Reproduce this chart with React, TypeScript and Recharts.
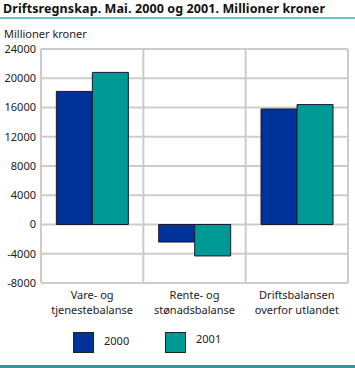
import React from 'react';
import { BarChart, Bar, XAxis, YAxis, CartesianGrid } from 'recharts';

// Kategorier og verdier (millioner kroner)
const CATEGORIES = ['Vare- og\ntjenestebalanse', 'Rente- og\nstønadsbalanse', 'Driftsbalansen\noverfor utlandet'];
const VALUES_2000 = [18200, -2400, 15800];
const VALUES_2001 = [20800, -4300, 16400];
const Y_TICKS = [-8000, -4000, 0, 4000, 8000, 12000, 16000, 20000, 24000];

const COLOR_2000 = '#00339a';
const COLOR_2001 = '#009a96';
const GRID = '#cccccc';
const FONT = '"Noto Sans", "Open Sans", sans-serif';

const data = CATEGORIES.map((name, i) => ({ name, v2000: VALUES_2000[i], v2001: VALUES_2001[i] }));

const CategoryTick = ({ x, y, payload }: any) => {
  const lines = String(payload.value).split('\n');
  return (
    <text x={x} y={y} textAnchor="middle" fontSize={11} fill="#222" fontFamily={FONT}>
      {lines.map((l, i) => (
        <tspan key={i} x={x} dy={i === 0 ? 8 : 15}>{l}</tspan>
      ))}
    </text>
  );
};

const LegendBox = ({ color, label, left, textTop }: { color: string; label: string; left: number; textTop: number }) => (
  <div style={{ position: 'absolute', left, top: 332, display: 'flex', alignItems: 'flex-start' }}>
    <div style={{ width: 19, height: 19, background: color, border: '1px solid #222' }} />
    <span style={{ marginLeft: 10, fontSize: 11, fontFamily: FONT, color: '#222', lineHeight: '14px', marginTop: textTop }}>{label}</span>
  </div>
);

export default function App() {
  return (
    <div style={{ position: 'absolute', left: 0, top: 0, width: 355, height: 368, background: '#fff', overflow: 'hidden' }}>
      <div style={{ position: 'absolute', left: 3, top: 0, fontSize: 12.5, fontWeight: 'bold', fontFamily: FONT, color: '#111', whiteSpace: 'nowrap', letterSpacing: 0.1 }}>
        Driftsregnskap. Mai. 2000 og 2001. Millioner kroner
      </div>
      <div style={{ position: 'absolute', left: 0, top: 17, width: 355, height: 2, background: '#66c6c6' }} />
      <div style={{ position: 'absolute', left: 4, top: 26, fontSize: 11, fontFamily: FONT, color: '#222' }}>Millioner kroner</div>
      <BarChart
        width={355}
        height={368}
        data={data}
        margin={{ top: 49, right: 7, left: 0, bottom: 0 }}
        barCategoryGap="15%"
        barGap={0}
      >
        <CartesianGrid
          stroke={GRID}
          strokeWidth={2}
          verticalCoordinatesGenerator={({ offset }: any) => [0, 1, 2, 3].map(i => offset.left + (offset.width * i) / 3)}
        />
        <XAxis dataKey="name" height={85} axisLine={false} tickLine={false} tick={<CategoryTick />} interval={0} />
        <YAxis
          width={41}
          domain={[-8000, 24000]}
          ticks={Y_TICKS}
          axisLine={false}
          tickLine={false}
          tickSize={0}
          tickMargin={5}
          tick={{ fontSize: 11, fill: '#222', fontFamily: FONT }}
        />
        <Bar dataKey="v2000" fill={COLOR_2000} stroke="#1a1a2e" strokeWidth={1} isAnimationActive={false} />
        <Bar dataKey="v2001" fill={COLOR_2001} stroke="#1a1a2e" strokeWidth={1} isAnimationActive={false} />
      </BarChart>
      <LegendBox color={COLOR_2000} label="2000" left={73} textTop={2} />
      <LegendBox color={COLOR_2001} label="2001" left={165} textTop={0} />
      <div style={{ position: 'absolute', left: 0, top: 365, width: 355, height: 3, background: '#2a9a9a' }} />
    </div>
  );
}
